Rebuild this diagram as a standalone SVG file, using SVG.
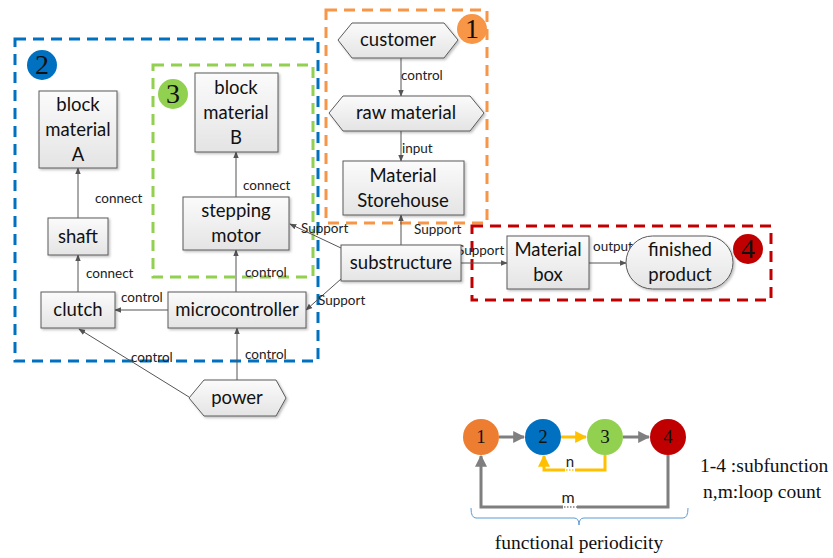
<svg xmlns="http://www.w3.org/2000/svg" width="833" height="558" viewBox="0 0 833 558">
<style>
.node{fill:url(#g);stroke:#5a5a5a;stroke-width:1;filter:url(#sh)}
.t{font-family:Lato,"Open Sans",sans-serif;font-size:18.5px;fill:#111;text-anchor:middle}
.lb{font-family:Lato,"Open Sans",sans-serif;font-size:13.5px;fill:#222}
.c{stroke:#555;stroke-width:1;fill:none;marker-end:url(#a)}
.dash{fill:none;stroke-width:3;stroke-dasharray:11 7}
.num{font-family:"Liberation Serif",serif;font-size:28px;fill:#111;text-anchor:middle}
.lnum{font-family:"Liberation Serif",serif;font-size:19px;fill:#111;text-anchor:middle}
.tm{font-family:"Liberation Serif",serif;font-size:19.5px;fill:#111}
</style>
<defs>
<linearGradient id="g" x1="0" y1="0" x2="0" y2="1"><stop offset="0" stop-color="#fbfbfb"/><stop offset="1" stop-color="#e4e4e4"/></linearGradient>
<filter id="sh" x="-10%" y="-10%" width="130%" height="140%"><feDropShadow dx="1.5" dy="1.5" stdDeviation="1" flood-color="#000" flood-opacity="0.25"/></filter>
<marker id="a" viewBox="0 0 10 10" refX="9" refY="5" markerWidth="7" markerHeight="7" orient="auto"><path d="M0,1 L10,5 L0,9 z" fill="#555"/></marker>
<marker id="ag" viewBox="0 0 10 10" refX="9" refY="5" markerWidth="4" markerHeight="4" orient="auto"><path d="M0,0 L10,5 L0,10 z" fill="#7f7f7f"/></marker>
<marker id="ay" viewBox="0 0 10 10" refX="9" refY="5" markerWidth="4" markerHeight="4" orient="auto"><path d="M0,0 L10,5 L0,10 z" fill="#FFC000"/></marker>
</defs>

<g id="groups">
<rect class="dash" x="15" y="39" width="303" height="322" stroke="#0070C0"/>
<rect class="dash" x="153" y="65" width="160" height="212" stroke="#92D050"/>
<rect class="dash" x="326" y="10" width="161" height="213" stroke="#F79646"/>
<rect class="dash" x="472" y="226" width="299" height="74" stroke="#C00000"/>
<circle cx="472" cy="29" r="15" fill="#F79646"/><text class="num" x="472" y="38">1</text>
<circle cx="42" cy="65" r="15" fill="#0070C0"/><text class="num" x="42" y="74">2</text>
<circle cx="173" cy="94" r="15" fill="#92D050"/><text class="num" x="173" y="103">3</text>
<circle cx="748" cy="249" r="15" fill="#C00000"/><text class="num" x="748" y="258">4</text>
</g>

<g id="connectors">
<line class="c" x1="401" y1="58" x2="401" y2="96"/>
<line class="c" x1="401" y1="131" x2="401" y2="161"/>
<line class="c" x1="401" y1="245" x2="401" y2="215"/>
<line class="c" x1="461" y1="263" x2="507" y2="263"/>
<line class="c" x1="589" y1="263" x2="626" y2="263"/>
<line class="c" x1="341" y1="248" x2="290" y2="224"/>
<line class="c" x1="341" y1="279" x2="306" y2="310"/>
<line class="c" x1="236" y1="197" x2="236" y2="152"/>
<line class="c" x1="236" y1="292" x2="236" y2="250"/>
<line class="c" x1="78" y1="218" x2="78" y2="168"/>
<line class="c" x1="78" y1="292" x2="78" y2="255"/>
<line class="c" x1="168" y1="310" x2="115" y2="310"/>
<line class="c" x1="237" y1="380" x2="237" y2="328"/>
<line class="c" x1="189" y1="397" x2="79" y2="329"/>
<text class="lb" x="401" y="80">control</text>
<text class="lb" x="402" y="153">input</text>
<text class="lb" x="414" y="234">Support</text>
<text class="lb" x="457" y="255">Support</text>
<text class="lb" x="593" y="251">output</text>
<text class="lb" x="301" y="233">Support</text>
<text class="lb" x="318" y="305">Support</text>
<text class="lb" x="243" y="190">connect</text>
<text class="lb" x="245" y="277">control</text>
<text class="lb" x="95" y="203">connect</text>
<text class="lb" x="86" y="278">connect</text>
<text class="lb" x="121" y="302">control</text>
<text class="lb" x="245" y="359">control</text>
<text class="lb" x="131" y="362">control</text>
</g>

<g id="customer"><polygon class="node" points="338,40 352,23 444,23 458,40 444,58 352,58"/><text class="t" x="398" y="46">customer</text></g>
<g id="raw-material"><polygon class="node" points="329,113 343,96 470,96 484,113 470,131 343,131"/><text class="t" x="406" y="119">raw material</text></g>
<g id="material-storehouse"><rect class="node" x="343" y="161" width="121" height="54"/><text class="t" x="403" y="182">Material</text><text class="t" x="403" y="207">Storehouse</text></g>
<g id="substructure"><rect class="node" x="341" y="245" width="120" height="36"/><text class="t" x="401" y="269">substructure</text></g>
<g id="material-box"><rect class="node" x="507" y="236" width="82" height="53"/><text class="t" x="548" y="256">Material</text><text class="t" x="548" y="281">box</text></g>
<g id="finished-product"><rect class="node" x="626" y="236" width="107" height="53" rx="26.5" ry="26.5"/><text class="t" x="680" y="256">finished</text><text class="t" x="680" y="281">product</text></g>
<g id="stepping-motor"><rect class="node" x="183" y="197" width="106" height="53"/><text class="t" x="236" y="217">stepping</text><text class="t" x="236" y="242">motor</text></g>
<g id="block-material-b"><rect class="node" x="195" y="73" width="83" height="79"/><text class="t" x="236" y="94">block</text><text class="t" x="236" y="119">material</text><text class="t" x="236" y="144">B</text></g>
<g id="microcontroller"><rect class="node" x="168" y="292" width="138" height="36"/><text class="t" x="237" y="316">microcontroller</text></g>
<g id="block-material-a"><rect class="node" x="39" y="91" width="78" height="77"/><text class="t" x="78" y="111">block</text><text class="t" x="78" y="136">material</text><text class="t" x="78" y="161">A</text></g>
<g id="shaft"><rect class="node" x="48" y="218" width="60" height="37"/><text class="t" x="78" y="243">shaft</text></g>
<g id="clutch"><rect class="node" x="41" y="292" width="74" height="36"/><text class="t" x="78" y="316">clutch</text></g>
<g id="power"><polygon class="node" points="189,398 204,380 276,380 286,398 276,416 204,416"/><text class="t" x="237" y="404">power</text></g>

<g id="legend">
<g stroke-width="3" fill="none">
<line x1="499" y1="437" x2="524" y2="437" stroke="#7f7f7f" marker-end="url(#ag)"/>
<line x1="561" y1="437" x2="586" y2="437" stroke="#FFC000" marker-end="url(#ay)"/>
<line x1="623" y1="437" x2="649" y2="437" stroke="#7f7f7f" marker-end="url(#ag)"/>
<polyline points="565,470 544,470 544,456" stroke="#FFC000" marker-end="url(#ay)"/>
<polyline points="575,470 605,470 605,455" stroke="#FFC000"/>
<polyline points="563,507 481,507 481,456" stroke="#7f7f7f" marker-end="url(#ag)"/>
<polyline points="577,507 668,507 668,455" stroke="#7f7f7f"/>
</g>
<line x1="566" y1="470" x2="575" y2="470" stroke="#FFC000" stroke-width="1.5" stroke-dasharray="1.5 1.5"/>
<line x1="564" y1="507" x2="577" y2="507" stroke="#7f7f7f" stroke-width="1.5" stroke-dasharray="1.5 1.5"/>
<circle cx="481" cy="437" r="18" fill="#ED7D31"/><text class="lnum" x="481" y="443">1</text>
<circle cx="543" cy="437" r="18" fill="#0070C0"/><text class="lnum" x="543" y="443">2</text>
<circle cx="605" cy="437" r="18" fill="#92D050"/><text class="lnum" x="605" y="443">3</text>
<circle cx="668" cy="437" r="18" fill="#C00000"/><text class="lnum" x="668" y="443">4</text>
<text x="570" y="467" font-family="Lato,sans-serif" font-size="15" fill="#222" text-anchor="middle">n</text>
<text x="568" y="503" font-family="Lato,sans-serif" font-size="16" fill="#222" text-anchor="middle">m</text>
<path d="M471,508 Q471,518 476,518 L574,518 Q579,518 579,525 Q579,518 584,518 L683,518 Q688,518 688,508" fill="none" stroke="#5B9BD5" stroke-width="1"/>
<text class="tm" x="579" y="549" text-anchor="middle">functional periodicity</text>
<text class="tm" x="700" y="472">1-4 :subfunction</text>
<text class="tm" x="703" y="498">n,m:loop count</text>
</g>
</svg>
